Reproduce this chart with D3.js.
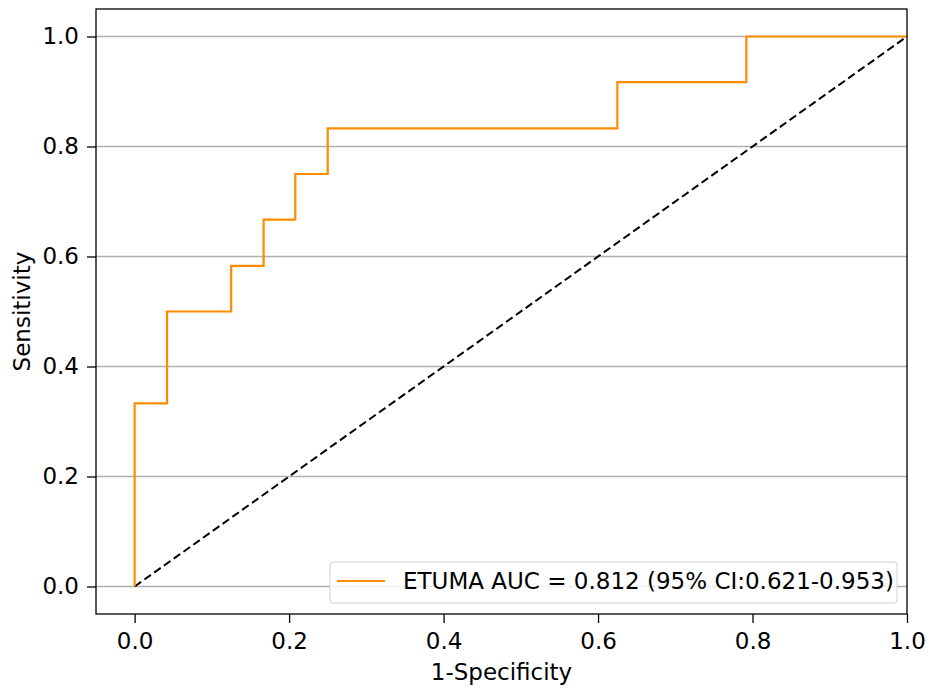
<!DOCTYPE html>
<html>
<head>
<meta charset="utf-8">
<script src="https://d3js.org/d3.v7.min.js"></script>
<style>
  body { margin: 0; background: #fff; }
  text { font-family: "DejaVu Sans", sans-serif; fill: #000; }
</style>
</head>
<body>
<svg id="chart"></svg>
<script>
// ROC curve points (1-specificity, sensitivity)
var fpr = [0, 0, 0.042, 0.042, 0.125, 0.125, 0.167, 0.167, 0.208, 0.208, 0.25, 0.25, 0.625, 0.625, 0.792, 0.792, 1.0];
var tpr = [0, 0.333, 0.333, 0.5, 0.5, 0.583, 0.583, 0.667, 0.667, 0.75, 0.75, 0.833, 0.833, 0.917, 0.917, 1.0, 1.0];
var xTicks = [0.0, 0.2, 0.4, 0.6, 0.8, 1.0];
var yTicks = [0.0, 0.2, 0.4, 0.6, 0.8, 1.0];
var legendLabel = "ETUMA AUC = 0.812 (95% CI:0.621-0.953)";

var W = 929, H = 693;
var margin = {top: 9, right: 22, bottom: 79, left: 96};
var width = W - margin.left - margin.right,
    height = H - margin.top - margin.bottom;

var svg = d3.select("#chart").attr("width", W).attr("height", H);
var g = svg.append("g").attr("transform", "translate(" + margin.left + "," + margin.top + ")");

var x = d3.scaleLinear().domain([-0.05, 1.0]).range([0, 811]);
var y = d3.scaleLinear().domain([-0.05, 1.05]).range([height, 0]);

// grid (horizontal only)
g.selectAll(".grid")
  .data(yTicks)
  .enter().append("line")
  .attr("x1", 0).attr("x2", x(1.0))
  .attr("y1", function(d) { return y(d); })
  .attr("y2", function(d) { return y(d); })
  .attr("stroke", "#b0b0b0").attr("stroke-width", 1.3);

// diagonal reference
g.append("line")
  .attr("x1", x(0)).attr("y1", y(0))
  .attr("x2", x(1)).attr("y2", y(1))
  .attr("stroke", "#000").attr("stroke-width", 2)
  .attr("stroke-dasharray", "8,4");

// ROC curve
var pts = fpr.map(function(v, i) { return [v, tpr[i]]; });
g.append("path")
  .datum(pts)
  .attr("fill", "none")
  .attr("stroke", "#ff8c00")
  .attr("stroke-width", 2.2)
  .attr("d", d3.line().x(function(d) { return x(d[0]); }).y(function(d) { return y(d[1]); }));

// axes
var xAxis = g.append("g")
  .attr("transform", "translate(0," + height + ")")
  .call(d3.axisBottom(x).tickValues(xTicks).tickFormat(d3.format(".1f")).tickSizeOuter(0).tickSize(9).tickPadding(10));
var yAxis = g.append("g")
  .call(d3.axisLeft(y).tickValues(yTicks).tickFormat(d3.format(".1f")).tickSizeOuter(0).tickSize(9).tickPadding(8));
[xAxis, yAxis].forEach(function(a) {
  a.attr("font-size", null).attr("font-family", null);
  a.selectAll("text").style("font-size", "23px").style("font-family", "DejaVu Sans");
  a.selectAll("line").attr("stroke", "#000").attr("stroke-width", 1.3);
  a.select(".domain").remove();
});

// frame
g.append("rect")
  .attr("x", 0).attr("y", 0).attr("width", x(1.0)).attr("height", height)
  .attr("fill", "none").attr("stroke", "#000").attr("stroke-width", 1.3);

// axis labels
svg.append("text")
  .attr("x", margin.left + x(1.0) / 2).attr("y", 680)
  .attr("text-anchor", "middle").style("font-size", "23px")
  .text("1-Specificity");
svg.append("text")
  .attr("transform", "translate(30," + (margin.top + height / 2) + ") rotate(-90)")
  .attr("text-anchor", "middle").style("font-size", "23px")
  .text("Sensitivity");

// legend
var lg = svg.append("g").attr("transform", "translate(330,562)");
lg.append("rect")
  .attr("width", 567).attr("height", 41).attr("rx", 3)
  .attr("fill", "#fff").attr("fill-opacity", 0.8)
  .attr("stroke", "#d0d0d0").attr("stroke-width", 1);
lg.append("line")
  .attr("x1", 7).attr("x2", 55).attr("y1", 19).attr("y2", 19)
  .attr("stroke", "#ff8c00").attr("stroke-width", 2.2);
lg.append("text")
  .attr("x", 73).attr("y", 27)
  .style("font-size", "23px")
  .text(legendLabel);
</script>
</body>
</html>
